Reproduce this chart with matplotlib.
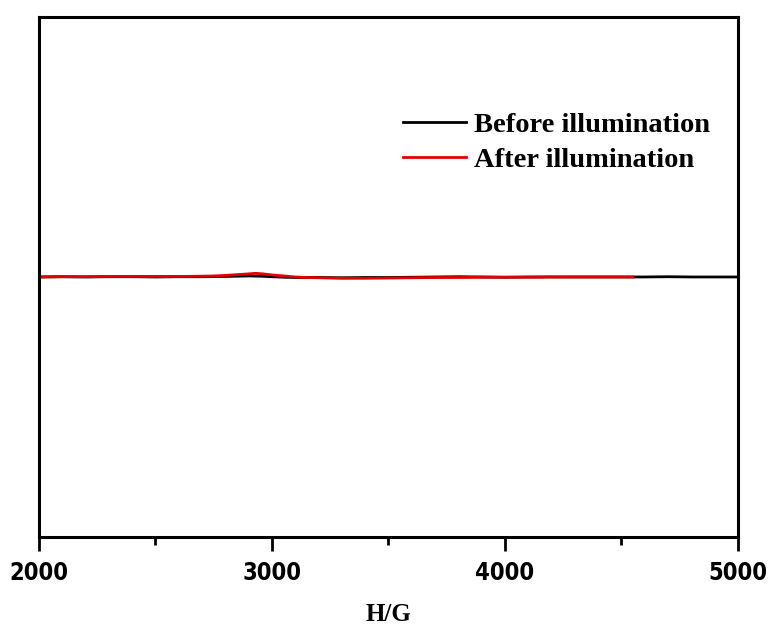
import matplotlib
matplotlib.use('Agg')
from matplotlib import pyplot as plt
from matplotlib.ticker import MultipleLocator

# EPR field axis (G) and normalised signal
field_before = [2000, 2100, 2200, 2300, 2400, 2500, 2600, 2700, 2800, 2850, 2900, 2950, 3000,
                3050, 3100, 3200, 3300, 3400, 3500, 3600, 3700, 3800, 3900, 4000, 4100, 4200,
                4300, 4400, 4500, 4600, 4700, 4800, 4900, 5000]
signal_before = [0.000, 0.001, 0.000, 0.001, 0.001, 0.000, 0.001, 0.001, 0.002, 0.003, 0.004, 0.003, 0.001,
                 -0.001, -0.002, -0.002, -0.003, -0.002, -0.002, -0.001, 0.000, 0.001, 0.000, -0.001, 0.000, 0.000,
                 0.000, 0.000, 0.000, 0.000, 0.001, 0.000, 0.000, 0.000]

field_after = [2000, 2100, 2200, 2300, 2400, 2500, 2600, 2700, 2750, 2800, 2850, 2900, 2930, 2960, 3000,
               3050, 3100, 3150, 3200, 3300, 3400, 3500, 3600, 3700, 3800, 3900, 4000, 4100, 4200,
               4300, 4400, 4500, 4550]
signal_after = [0.000, 0.001, 0.001, 0.002, 0.002, 0.002, 0.002, 0.003, 0.004, 0.006, 0.009, 0.012, 0.014, 0.012, 0.008,
                0.004, 0.000, -0.002, -0.003, -0.005, -0.005, -0.004, -0.003, -0.002, -0.002, -0.001, -0.001, -0.001, 0.000,
                0.000, 0.000, 0.000, 0.000]

fig = plt.figure(figsize=(7.71, 6.28), dpi=100)
ax = fig.add_axes([0.0506, 0.1449, 0.9064, 0.8281])

ax.plot(field_before, signal_before, color='black', lw=2.0, label='Before illumination')
ax.plot(field_after, signal_after, color='#e00000', lw=2.0, label='After illumination')

ax.set_xlim(2000, 5000)
ax.set_ylim(-1, 1)
ax.xaxis.set_major_locator(MultipleLocator(1000))
ax.xaxis.set_minor_locator(MultipleLocator(500))
ax.set_yticks([])
ax.tick_params(axis='x', which='major', direction='out', length=10, width=2, pad=7)
ax.tick_params(axis='x', which='minor', direction='out', length=6, width=2)
for s in ax.spines.values():
    s.set_linewidth(2.2)

for lbl in ax.get_xticklabels():
    lbl.set_family(['Liberation Sans Narrow', 'DejaVu Sans'])
    lbl.set_fontstretch('condensed')
    lbl.set_fontweight('bold')
    lbl.set_fontsize(17)

ax.set_xlabel('H/G', family=['Liberation Serif', 'DejaVu Serif'], fontweight='bold', fontsize=18, labelpad=13)

leg = ax.legend(loc='upper left', bbox_to_anchor=(0.521, 0.818), frameon=False,
                prop={'family': ['Liberation Serif', 'DejaVu Serif'], 'weight': 'bold', 'size': 20.5},
                handlelength=2.2, handletextpad=0.3, labelspacing=0.33,
                borderpad=0, borderaxespad=0)

fig.savefig('out.png', dpi=100)
